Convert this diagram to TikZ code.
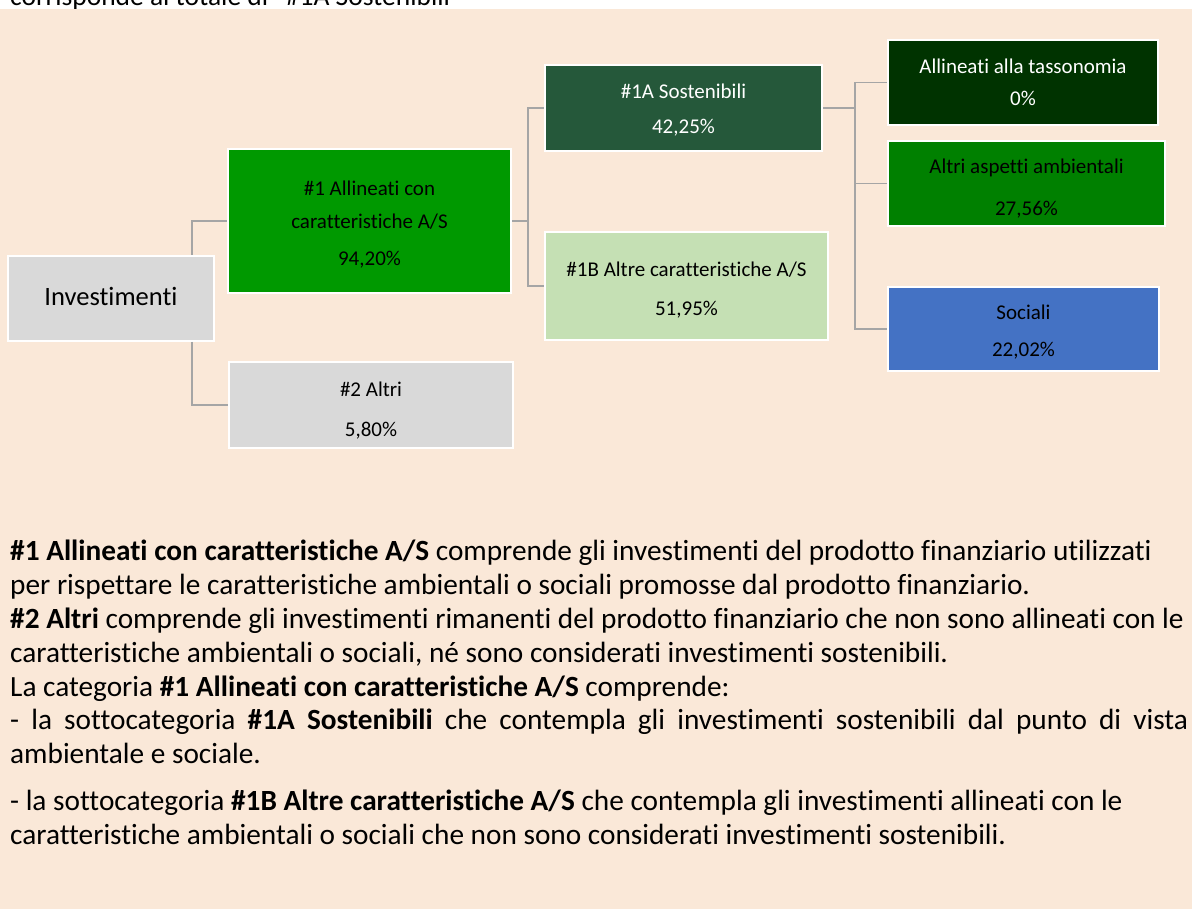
\documentclass[tikz,border=0pt]{standalone}
\usepackage{fontspec}
\setmainfont{Carlito}[Ligatures={NoCommon,NoContextual,NoRare}]
\definecolor{bgpeach}{HTML}{FAE8D8}
\definecolor{linegray}{HTML}{A5A5A5}
\definecolor{boxgray}{HTML}{D9D9D9}
\definecolor{greenA}{HTML}{009900}
\definecolor{greenDark}{HTML}{25583A}
\definecolor{greenLight}{HTML}{C5E0B4}
\definecolor{greenDeep}{HTML}{003300}
\definecolor{greenMid}{HTML}{008000}
\definecolor{blueSoc}{HTML}{4472C4}
\newcommand{\bxfont}{\fontsize{21}{25}\selectfont}
\newcommand{\invfont}{\fontsize{26.5}{31}\selectfont}
\newcommand{\bdfont}{\fontsize{29.3}{34}\selectfont}
\newcommand{\tpfont}{\fontsize{27.5}{33}\selectfont}
\tikzset{
  box/.style={draw=white, line width=2pt, inner sep=0pt, rectangle},
  lbl/.style={anchor=base, inner sep=0pt, font=\bxfont},
  wlbl/.style={lbl, text=white},
  conn/.style={draw=linegray, line width=1.3pt},
  body/.style={anchor=base west, inner sep=0pt, font=\bdfont}
}
\begin{document}
\begin{tikzpicture}[x=1pt,y=-1pt]
\useasboundingbox (0,0) rectangle (1192,909);
\fill[white] (0,0) rectangle (1192,9);
\node[body, font=\tpfont] (toptext) at (10,6) {corrisponde al totale di “\#1A Sostenibili”};
\fill[bgpeach] (0,9) rectangle (1192,909);

% boxes
\node[box, fill=boxgray, minimum width=206pt, minimum height=85pt] (inv) at (111,298.5) {};
\node[box, fill=greenA, minimum width=283pt, minimum height=144pt] (n1) at (369.5,221) {};
\node[box, fill=boxgray, minimum width=284pt, minimum height=86pt] (n2) at (371,405) {};
\node[box, fill=greenDark, minimum width=277pt, minimum height=86pt] (n1a) at (683.5,108) {};
\node[box, fill=greenLight, minimum width=283pt, minimum height=108pt] (n1b) at (686.5,286) {};
\node[box, fill=greenDeep, minimum width=270pt, minimum height=85pt] (a1) at (1023,82.5) {};
\node[box, fill=greenMid, minimum width=277pt, minimum height=85pt] (a2) at (1026.5,183.5) {};
\node[box, fill=blueSoc, minimum width=271pt, minimum height=84pt] (a3) at (1023.5,329) {};

% connectors
\draw[conn] ([xshift=-23pt]inv.north east) |- (n1.west);
\draw[conn] ([xshift=-23pt]inv.south east) |- (n2.west);
\draw[conn] (n1.east) -- ++(16,0) coordinate (j1);
\draw[conn] (j1) |- (n1a.west);
\draw[conn] (j1) |- (n1b.west);
\draw[conn] (n1a.east) -- ++(32,0) coordinate (j2);
\draw[conn] (j2) |- (a1.west);
\draw[conn] (j2) |- (a2.west);
\draw[conn] (j2) |- (a3.west);

% labels
\node[lbl, font=\invfont] (invt) at (111,306) {Investimenti};
\node[lbl] (n1t1) at (369.5,196) {\#1 Allineati con};
\node[lbl] (n1t2) at (369.5,229) {caratteristiche A/S};
\node[lbl] (n1t3) at (369.5,266) {94,20\%};
\node[lbl] (n2t1) at (371,396) {\#2 Altri};
\node[lbl] (n2t2) at (371,436) {5,80\%};
\node[wlbl] (n1at1) at (683.5,99) {\#1A Sostenibili};
\node[wlbl] (n1at2) at (683.5,134) {42,25\%};
\node[lbl] (n1bt1) at (686.5,277) {\#1B Altre caratteristiche A/S};
\node[lbl] (n1bt2) at (686.5,316) {51,95\%};
\node[wlbl] (a1t1) at (1023,74) {Allineati alla tassonomia};
\node[wlbl] (a1t2) at (1023,106) {0\%};
\node[lbl] (a2t1) at (1026.5,174) {Altri aspetti ambientali};
\node[lbl] (a2t2) at (1026.5,216) {27,56\%};
\node[lbl] (a3t1) at (1023.5,320) {Sociali};
\node[lbl] (a3t2) at (1023.5,356) {22,02\%};

% body text
\node[body] (b1) at (10,560) {\textbf{\#1 Allineati con caratteristiche A/S} comprende gli investimenti del prodotto finanziario utilizzati};
\node[body] (b2) at (10,594) {per rispettare le caratteristiche ambientali o sociali promosse dal prodotto finanziario.};
\node[body] (b3) at (10,628) {\textbf{\#2 Altri} comprende gli investimenti rimanenti del prodotto finanziario che non sono allineati con le};
\node[body] (b4) at (10,662) {caratteristiche ambientali o sociali, né sono considerati investimenti sostenibili.};
\node[body] (b5) at (10,696) {La categoria \textbf{\#1 Allineati con caratteristiche A/S} comprende:};
\node[body] (b6) at (10,729) {\makebox[1178pt][s]{- la sottocategoria \textbf{\#1A Sostenibili} che contempla gli investimenti sostenibili dal punto di vista}};
\node[body] (b7) at (10,763) {ambientale e sociale.};
\node[body] (b8) at (10,810) {- la sottocategoria \textbf{\#1B Altre caratteristiche A/S} che contempla gli investimenti allineati con le};
\node[body] (b9) at (10,844) {caratteristiche ambientali o sociali che non sono considerati investimenti sostenibili.};
\end{tikzpicture}
\end{document}
